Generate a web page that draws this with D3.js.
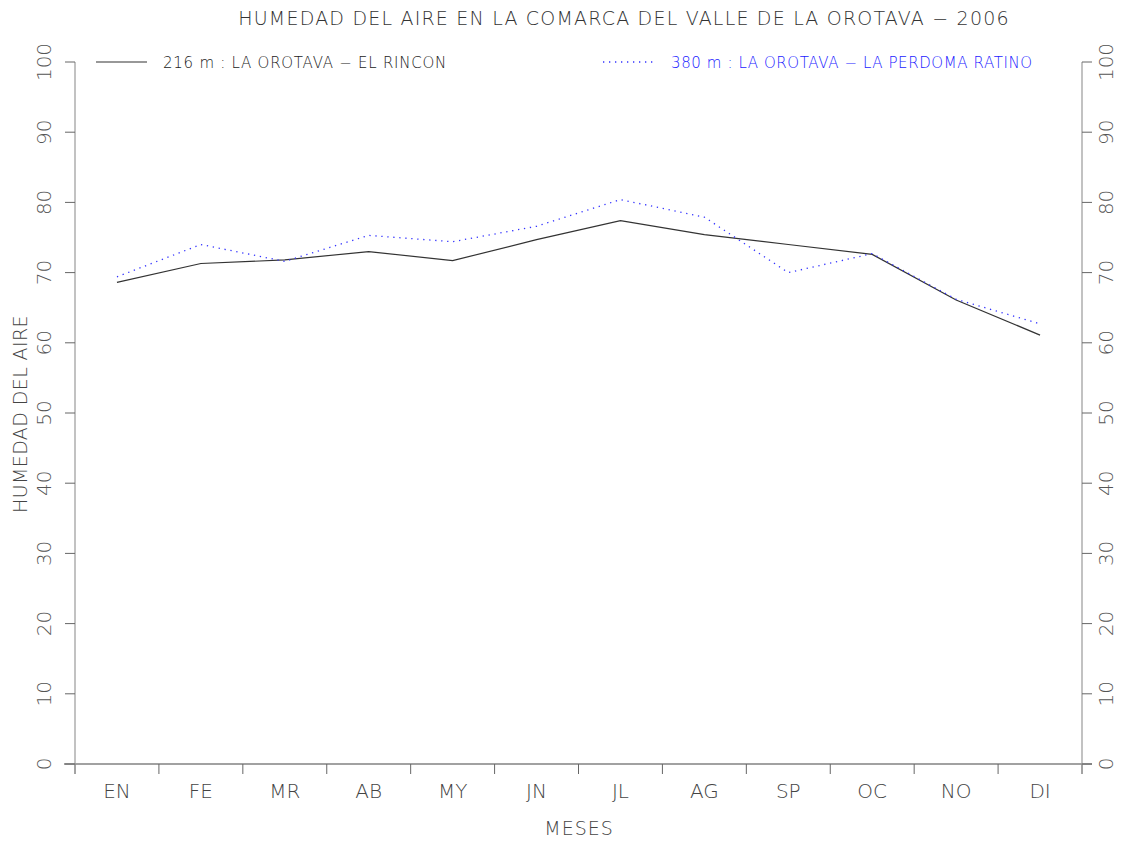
<!DOCTYPE html>
<html>
<head>
<meta charset="utf-8">
<script src="https://cdn.jsdelivr.net/npm/d3@7"></script>
<style>
    body { margin: 0; background: #fff; }
    svg text { font-family: "DejaVu Sans", sans-serif; font-weight: 200; }
</style>
</head>
<body>
<svg id="chart" width="1123" height="841"></svg>
<script>
var months = ["EN", "FE", "MR", "AB", "MY", "JN", "JL", "AG", "SP", "OC", "NO", "DI"];
var rinconValues = [68.6, 71.3, 71.8, 73.0, 71.7, 74.7, 77.4, 75.4, 74.0, 72.6, 66.1, 61.1];
var perdomaValues = [69.4, 74.0, 71.6, 75.3, 74.4, 76.6, 80.4, 77.9, 70.0, 72.7, 66.2, 62.7];
var yTicks = [0, 10, 20, 30, 40, 50, 60, 70, 80, 90, 100];
var seriesNames = ["216 m : LA OROTAVA \u2212 EL RINCON", "380 m : LA OROTAVA \u2212 LA PERDOMA RATINO"];

var svg = d3.select("#chart");
// plot box (window.top is read-only, so no plain "top" here)
var plotLeft = 75, plotRight = 1082, plotTop = 62, plotBottom = 764;

var x = d3.scaleBand().domain(months).range([plotLeft, plotRight]);
var y = d3.scaleLinear().domain([0, 100]).range([plotBottom, plotTop]);

// title
svg.append("text")
    .attr("x", 624).attr("y", 25)
    .attr("text-anchor", "middle")
    .attr("font-size", 19)
    .attr("letter-spacing", 1.2)
    .attr("fill", "#333")
    .text("HUMEDAD DEL AIRE EN LA COMARCA DEL VALLE DE LA OROTAVA \u2212 2006");

// x axis (line + ticks at band edges)
svg.append("line")
    .attr("x1", 64).attr("x2", 1092)
    .attr("y1", plotBottom).attr("y2", plotBottom)
    .attr("stroke", "#444").attr("stroke-width", 1.2);

var edges = months.map(function (m) { return x(m); }).concat([plotRight]);
svg.selectAll(".xtick").data(edges).enter().append("line")
    .attr("x1", function (d) { return d; }).attr("x2", function (d) { return d; })
    .attr("y1", plotBottom).attr("y2", plotBottom + 10)
    .attr("stroke", "#666").attr("stroke-width", 1);

svg.selectAll(".xlabel").data(months).enter().append("text")
    .attr("x", function (d) { return x(d) + x.bandwidth() / 2; })
    .attr("y", 798)
    .attr("text-anchor", "middle")
    .attr("font-size", 20)
    .attr("fill", "#444")
    .text(function (d) { return d; });

svg.append("text")
    .attr("x", 579).attr("y", 835)
    .attr("text-anchor", "middle")
    .attr("font-size", 19)
    .attr("letter-spacing", 1)
    .attr("fill", "#444")
    .text("MESES");

// left and right y axes
[plotLeft, plotRight].forEach(function (ax, i) {
    svg.append("line")
        .attr("x1", ax).attr("x2", ax)
        .attr("y1", plotTop).attr("y2", plotBottom + 10)
        .attr("stroke", "#999").attr("stroke-width", 1.2);

    var tx1 = i == 0 ? ax - 10 : ax;
    var tx2 = i == 0 ? ax : ax + 10;
    svg.selectAll(".ytick" + i).data(yTicks).enter().append("line")
        .attr("x1", tx1).attr("x2", tx2)
        .attr("y1", function (d) { return y(d); }).attr("y2", function (d) { return y(d); })
        .attr("stroke", "#666").attr("stroke-width", 1);

    var lx = i == 0 ? 51 : 1113;
    svg.selectAll(".ylabel" + i).data(yTicks).enter().append("text")
        .attr("transform", function (d) { return "translate(" + lx + "," + y(d) + ") rotate(-90)"; })
        .attr("text-anchor", "middle")
        .attr("font-size", 20)
        .attr("fill", "#555")
        .text(function (d) { return d; });
});

svg.append("text")
    .attr("transform", "translate(27,414) rotate(-90)")
    .attr("text-anchor", "middle")
    .attr("font-size", 19)
    .attr("letter-spacing", 0.4)
    .attr("fill", "#444")
    .text("HUMEDAD DEL AIRE");

// series lines
var line = d3.line()
    .x(function (d, i) { return x(months[i]) + x.bandwidth() / 2; })
    .y(function (d) { return y(d); });

svg.append("path")
    .datum(rinconValues)
    .attr("d", line)
    .attr("fill", "none")
    .attr("stroke", "#333")
    .attr("stroke-width", 1.2);

svg.append("path")
    .datum(perdomaValues)
    .attr("d", line)
    .attr("fill", "none")
    .attr("stroke", "#3333ff")
    .attr("stroke-width", 1.3)
    .attr("stroke-dasharray", "1.3,4.7");

// legend
svg.append("line")
    .attr("x1", 96).attr("x2", 147).attr("y1", 62).attr("y2", 62)
    .attr("stroke", "#333").attr("stroke-width", 1.2);
svg.append("text")
    .attr("x", 163).attr("y", 68)
    .attr("font-size", 15)
    .attr("letter-spacing", 0.75)
    .attr("fill", "#222")
    .text(seriesNames[0]);

svg.append("line")
    .attr("x1", 603).attr("x2", 655).attr("y1", 62).attr("y2", 62)
    .attr("stroke", "#3333ff").attr("stroke-width", 1.3)
    .attr("stroke-dasharray", "1.3,4.7");
svg.append("text")
    .attr("x", 671).attr("y", 68)
    .attr("font-size", 15)
    .attr("letter-spacing", 0.6)
    .attr("fill", "#1a1aff")
    .text(seriesNames[1]);
</script>
</body>
</html>
